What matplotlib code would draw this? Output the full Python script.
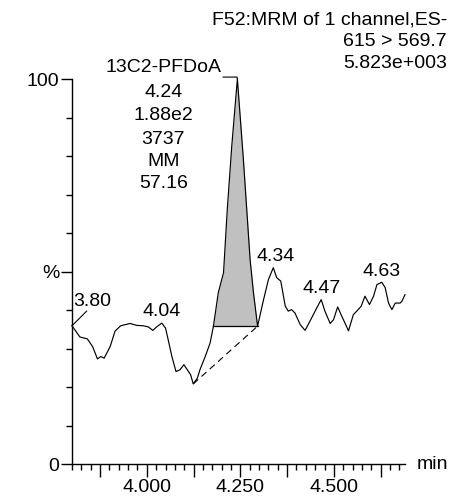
import matplotlib
matplotlib.use('Agg')
import matplotlib.pyplot as plt
import numpy as np
from matplotlib.ticker import MultipleLocator, FixedLocator

# ---------------- data ----------------
time_min = [3.800, 3.821, 3.841, 3.855, 3.868, 3.877, 3.886, 3.902, 3.915, 3.930,
            3.955, 3.973, 3.991, 4.004, 4.016, 4.026, 4.040, 4.050, 4.057, 4.067,
            4.078, 4.089, 4.099, 4.108, 4.117, 4.124, 4.135, 4.142, 4.156, 4.169,
            4.178, 4.191, 4.205, 4.215, 4.227, 4.242, 4.258, 4.276, 4.285, 4.296,
            4.312, 4.325, 4.338, 4.347, 4.358, 4.370, 4.378, 4.387, 4.396, 4.410,
            4.423, 4.436, 4.454, 4.466, 4.476, 4.490, 4.499, 4.510, 4.521, 4.539,
            4.552, 4.561, 4.573, 4.583, 4.595, 4.606, 4.615, 4.628, 4.637, 4.646,
            4.655, 4.664, 4.677, 4.682, 4.690]
intensity_pct = [35.9, 33.0, 32.5, 30.5, 27.3, 27.9, 27.5, 30.5, 34.5, 35.9,
                 36.5, 36.0, 35.9, 35.6, 34.7, 35.6, 36.6, 35.3, 32.3, 27.9,
                 24.0, 24.5, 25.8, 24.5, 23.2, 20.8, 22.3, 24.5, 27.9, 31.4,
                 35.8, 44.5, 49.7, 66.1, 82.6, 100.0, 79.2, 53.1, 44.5, 35.8,
                 42.7, 47.9, 51.0, 48.4, 47.5, 41.0, 39.7, 40.1, 39.2, 36.2,
                 34.7, 37.1, 40.5, 42.7, 39.7, 36.5, 37.5, 40.8, 38.4, 34.6,
                 38.8, 39.7, 41.0, 43.6, 41.4, 43.6, 46.6, 47.2, 45.8, 41.8,
                 40.1, 41.8, 41.8, 42.3, 44.0]

peak_start, peak_end, peak_level = 4.178, 4.296, 35.8
baseline_t = [4.124, 4.296]
baseline_y = [20.8, 35.8]

peak_labels = ["4.04", "4.34", "4.47", "4.63"]
peak_label_t = [4.040, 4.343, 4.468, 4.628]
peak_label_y = [39.5, 54.0, 45.5, 49.9]

first_label = "3.80"
apex_t, apex_y = 4.242, 100.0
apex_info = ["13C2-PFDoA", "4.24", "1.88e2", "3737", "MM", "57.16"]
header = ["F52:MRM of 1 channel,ES-", "615 > 569.7", "5.823e+003"]

x_major = [3.875, 4.000, 4.125, 4.250, 4.375, 4.500, 4.625]
x_major_labels = ["", "4.000", "", "4.250", "", "4.500", ""]
y_major = [0, 50, 100]
y_major_labels = ["0", "%", "100"]

# ---------------- plot ----------------
plt.rcParams['font.family'] = ['Liberation Sans', 'DejaVu Sans']
FS = 14
W, H = 457, 498

fig = plt.figure(figsize=(W / 100, H / 100), dpi=100)
ax = fig.add_axes([72 / W, 34 / H, 333 / W, 385 / H])

t = np.array(time_min)
y = np.array(intensity_pct)
mask = (t >= peak_start - 1e-9) & (t <= peak_end + 1e-9)

ax.fill_between(t[mask], y[mask], peak_level, color='#c0c0c0', lw=0, clip_on=False)
ax.plot([peak_start, peak_end], [peak_level, peak_level], color='black', lw=0.9, clip_on=False)
ax.plot(t, y, color='black', lw=0.85, clip_on=False)
ax.plot(baseline_t, baseline_y, color='black', lw=0.8, ls=(0, (6, 4)), clip_on=False)

ax.set_xlim(3.80, 4.69)
ax.set_ylim(0, 100)

for s in ('top', 'right'):
    ax.spines[s].set_visible(False)
for s in ('left', 'bottom'):
    ax.spines[s].set_linewidth(1.0)
    ax.spines[s].set_color('black')

ax.xaxis.set_major_locator(FixedLocator(x_major))
ax.set_xticklabels(x_major_labels, fontsize=FS)
ax.xaxis.set_minor_locator(MultipleLocator(0.025))
ax.yaxis.set_major_locator(FixedLocator(y_major))
ax.set_yticklabels(y_major_labels, fontsize=FS)
ax.yaxis.set_minor_locator(MultipleLocator(10))

ax.tick_params(axis='x', which='major', length=9, width=1.0, pad=2, direction='out')
ax.tick_params(axis='x', which='minor', length=4.5, width=1.0, direction='out')
ax.tick_params(axis='y', which='major', length=8, width=1.0, pad=1, direction='out')
ax.tick_params(axis='y', which='minor', length=4.5, width=1.0, direction='out')

# peak labels
for lab, lt, ly in zip(peak_labels, peak_label_t, peak_label_y):
    ax.text(lt, ly, lab, ha='center', va='center', fontsize=FS)

# first-point label with leader
ax.plot([time_min[0], 3.839], [intensity_pct[0], 39.7], color='black', lw=0.8, clip_on=False)
ax.text(3.803, 42.3, first_label, ha='left', va='center', fontsize=FS)

# apex annotation block
line_y = [103.0, 96.4, 90.4, 84.4, 78.6, 72.8]
for s, ly in zip(apex_info, line_y):
    ax.text(4.044, ly, s, ha='center', va='center', fontsize=FS, clip_on=False)
ax.plot([4.204, apex_t - 0.001, apex_t], [100.5, 100.5, apex_y], color='black', lw=0.8, clip_on=False)

# header
for s, py in zip(header, [20, 41.7, 63.3]):
    fig.text(447 / W, 1 - py / H, s, ha='right', va='center', fontsize=FS)

fig.text(417 / W, 1 - 464 / H, 'min', ha='left', va='center', fontsize=FS)

fig.savefig('out.png', dpi=100)
